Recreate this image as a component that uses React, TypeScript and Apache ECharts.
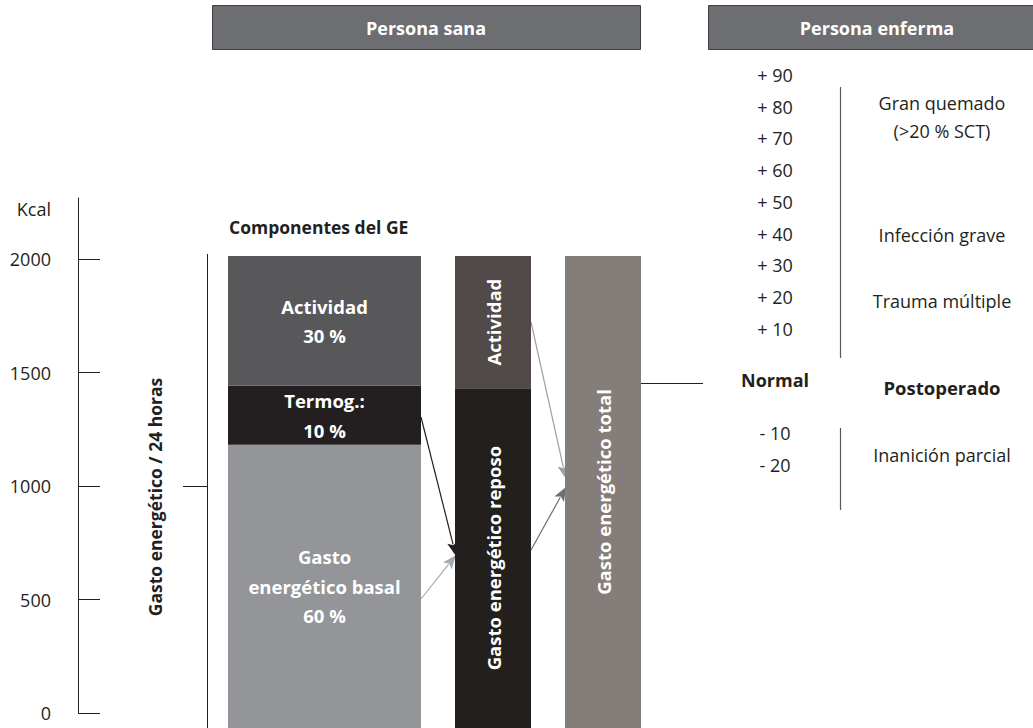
import React, { useEffect, useRef } from "react";
import * as echarts from "echarts";

// ---- data ----
const kcalTicks = [0, 500, 1000, 1500, 2000];
const kcalMax = 2270;

// Componentes del GE (share of the bar height, %)
const componentNames = ["Gasto energético basal", "Termog.", "Actividad"];
const componentValues = [60, 12.5, 27.5];
const componentLabels = ["Gasto\nenergético basal\n60 %", "Termog.:\n10 %", "Actividad\n30 %"];

const reposoNames = ["Gasto energético reposo", "Actividad"];
const reposoValues = [72, 28];
const reposoLabels = ["Gasto energético reposo", "Actividad"];

const totalNames = ["Gasto energético total"];
const totalValues = [100];
const totalLabels = ["Gasto energético total"];

const increaseTicks = ["+ 90", "+ 80", "+ 70", "+ 60", "+ 50", "+ 40", "+ 30", "+ 20", "+ 10"];
const normalTick = "Normal";
const decreaseTicks = ["- 10", "- 20"];

const headers = ["Persona sana", "Persona enferma"];

// ---- styles ----
const FONT = '"Open Sans", sans-serif';
const INK = "#231f20";
const componentColors = ["#939598", "#231f20", "#58585a"];
const reposoColors = ["#231f1c", "#524a48"];
const totalColors = ["#857d7a"];

function arrow(x1: number, y1: number, x2: number, y2: number, color: string): any[] {
  const dx = x2 - x1, dy = y2 - y1;
  const len = Math.sqrt(dx * dx + dy * dy);
  const ux = dx / len, uy = dy / len;
  const nx = -uy, ny = ux;
  const hl = 14, hw = 5.5;
  const bx = x2 - ux * hl, by = y2 - uy * hl;
  return [
    { type: "line", shape: { x1, y1, x2: bx + ux * 2, y2: by + uy * 2 }, style: { stroke: color, lineWidth: 1.2 } },
    {
      type: "polygon",
      shape: { points: [[x2, y2], [bx + nx * hw, by + ny * hw], [bx + ux * 3, by + uy * 3], [bx - nx * hw, by - ny * hw]] },
      style: { fill: color },
    },
  ];
}

function text(x: number, y: number, t: string, opts: any = {}): any {
  return {
    type: "text",
    x,
    y,
    rotation: opts.rotation || 0,
    style: {
      text: t,
      fill: opts.fill || INK,
      font: `${opts.bold ? "bold " : ""}${opts.size || 18}px ${FONT}`,
      align: opts.align || "center",
      verticalAlign: "middle",
    },
  };
}

function barLabel(txt: string, rotate = 0) {
  return {
    show: true,
    position: "inside",
    formatter: txt,
    color: "#ffffff",
    fontWeight: "bold",
    fontSize: 18.5,
    fontFamily: FONT,
    lineHeight: 29.5,
    rotate,
  };
}

export default function App() {
  const ref = useRef<HTMLDivElement>(null);
  useEffect(() => {
    if (!ref.current) return;
    const chart = echarts.init(ref.current, null, { renderer: "svg" });

    const series: any[] = [];
    componentNames.forEach((n, i) =>
      series.push({
        name: n, type: "bar", xAxisIndex: 1, yAxisIndex: 1, stack: "c1", barWidth: "100%",
        data: [componentValues[i]], itemStyle: { color: componentColors[i] }, label: barLabel(componentLabels[i]),
      })
    );
    reposoNames.forEach((n, i) =>
      series.push({
        name: n, type: "bar", xAxisIndex: 2, yAxisIndex: 2, stack: "c2", barWidth: "100%",
        data: [reposoValues[i]], itemStyle: { color: reposoColors[i] }, label: barLabel(reposoLabels[i], 90),
      })
    );
    totalNames.forEach((n, i) =>
      series.push({
        name: n, type: "bar", xAxisIndex: 3, yAxisIndex: 3, stack: "c3", barWidth: "100%",
        data: [totalValues[i]], itemStyle: { color: totalColors[i] }, label: barLabel(totalLabels[i], 90),
      })
    );

    const graphic: any[] = [];
    // headers
    graphic.push({ type: "rect", shape: { x: 212.5, y: 5.5, width: 428, height: 44 }, style: { fill: "#6d6e71", stroke: "#3f3f40", lineWidth: 1 } });
    graphic.push(text(426, 28, headers[0], { bold: true, fill: "#fff" }));
    graphic.push({ type: "rect", shape: { x: 708.5, y: 5.5, width: 330, height: 44 }, style: { fill: "#6d6e71", stroke: "#3f3f40", lineWidth: 1 } });
    graphic.push(text(877, 28, headers[1], { bold: true, fill: "#fff" }));

    graphic.push(text(51, 209, "Kcal", { align: "right" }));
    graphic.push(text(229, 227, "Componentes del GE", { align: "left", bold: true, size: 17.5 }));
    graphic.push(text(155, 497, "Gasto energético / 24 horas", { bold: true, size: 17.5, rotation: Math.PI / 2 }));
    graphic.push({ type: "line", shape: { x1: 207.5, y1: 254, x2: 207.5, y2: 728 }, style: { stroke: INK, lineWidth: 1 } });
    graphic.push({ type: "line", shape: { x1: 183, y1: 486.5, x2: 207.5, y2: 486.5 }, style: { stroke: INK, lineWidth: 1 } });

    // arrows
    graphic.push(...arrow(421, 417, 456, 556, "#231f20"));
    graphic.push(...arrow(421, 599, 456, 555, "#a7a9ac"));
    graphic.push(...arrow(531, 550, 566, 487, "#6d6e71"));
    graphic.push(...arrow(531, 322, 566, 479, "#a0a0a3"));

    // right panel
    increaseTicks.forEach((t, i) => graphic.push(text(775, 75 + i * 31.7, t)));
    graphic.push(text(775, 380, normalTick, { bold: true }));
    decreaseTicks.forEach((t, i) => graphic.push(text(775, 433 + i * 32, t)));
    graphic.push({ type: "line", shape: { x1: 641, y1: 383.5, x2: 703, y2: 383.5 }, style: { stroke: INK, lineWidth: 1 } });
    graphic.push({ type: "line", shape: { x1: 840.5, y1: 87, x2: 840.5, y2: 358 }, style: { stroke: "#58585a", lineWidth: 1.2 } });
    graphic.push({ type: "line", shape: { x1: 840.5, y1: 428, x2: 840.5, y2: 510 }, style: { stroke: "#58585a", lineWidth: 1.2 } });
    graphic.push(text(942, 103, "Gran quemado"));
    graphic.push(text(942, 131, "(>20 % SCT)"));
    graphic.push(text(942, 235, "Infección grave"));
    graphic.push(text(942, 301, "Trauma múltiple"));
    graphic.push(text(942, 387, "Postoperado", { bold: true, size: 18.5 }));
    graphic.push(text(942, 455, "Inanición parcial"));

    const hiddenX = (gi: number) => ({ type: "category", gridIndex: gi, data: [""], show: false });
    const hiddenY = (gi: number) => ({ type: "value", gridIndex: gi, min: 0, max: 100, show: false });

    chart.setOption({
      animation: false,
      backgroundColor: "#ffffff",
      grid: [
        { left: 78, top: 198, bottom: 15, width: 30, outerBoundsMode: "none" },
        { left: 228, top: 256, bottom: 0, width: 193, outerBoundsMode: "none" },
        { left: 455, top: 256, bottom: 0, width: 76, outerBoundsMode: "none" },
        { left: 565, top: 256, bottom: 0, width: 76, outerBoundsMode: "none" },
      ],
      xAxis: [hiddenX(0), hiddenX(1), hiddenX(2), hiddenX(3)],
      yAxis: [
        {
          type: "value",
          gridIndex: 0,
          min: 0,
          max: kcalMax,
          axisLine: { show: true, lineStyle: { color: INK, width: 1 } },
          axisTick: { show: true, inside: true, length: 22, customValues: kcalTicks, lineStyle: { color: INK, width: 1 } },
          axisLabel: {
            customValues: kcalTicks,
            margin: 27,
            fontSize: 18,
            color: INK,
            fontFamily: FONT,
            formatter: (v: number) => String(v),
          },
          splitLine: { show: false },
        },
        hiddenY(1),
        hiddenY(2),
        hiddenY(3),
      ],
      series,
      graphic,
    });
    return () => chart.dispose();
  }, []);
  return <div ref={ref} style={{ position: "fixed", left: 0, top: 0, width: 1033, height: 728 }} />;
}
